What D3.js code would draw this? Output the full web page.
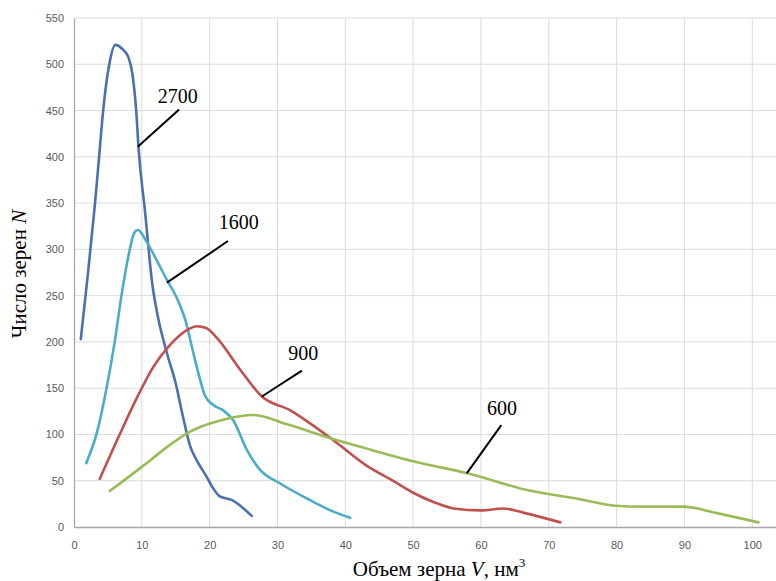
<!DOCTYPE html>
<html>
<head>
<meta charset="utf-8">
<script src="https://cdn.jsdelivr.net/npm/d3@7"></script>
<style>
  html, body { margin: 0; padding: 0; background: #fff; }
  svg { display: block; }
  .tick text { font-family: "Liberation Sans", Arial, sans-serif; font-size: 11px; fill: #595959; }
  .ttl { font-family: "Liberation Serif", "Times New Roman", serif; font-size: 21px; fill: #000; }
  .lbl { font-family: "Liberation Serif", "Times New Roman", serif; font-size: 20px; fill: #000; }
</style>
</head>
<body>
<div id="chart"></div>
<script>
// grain volume V (nm^3) vs grain count N, one series per temperature label
const series2700 = [[1.0,203],[2.0,270],[3.1,350],[3.7,400],[4.3,450],[5.2,500],[6.1,521],[7.2,516],[8.0,508],[8.6,490],[9.2,447],[9.5,411],[10.5,339],[11.5,265],[12.4,226],[13.7,188],[15.0,155],[16.1,118],[17.1,88],[18.1,72],[19.5,55],[20.5,42],[21.5,33],[23.3,29],[26.2,12]];
const series1600 = [[1.8,69],[3.3,100],[4.8,150],[6.0,200],[7.0,250],[8.0,292],[8.9,318],[9.4,321],[10.8,307],[12.2,288],[13.7,267],[15.2,247],[16.4,224],[17.6,188],[18.6,159],[19.3,142],[20.5,132],[22.0,126],[23.5,115],[25.5,83],[27.4,62],[30.4,47],[34.8,29],[37.8,18],[40.7,10]];
const series900  = [[3.8,52],[6.8,101],[9.3,140],[11.7,173],[14.2,197],[16.7,213],[18.1,217],[19.5,215],[21.0,205],[24.5,170],[27.7,141],[31.9,126],[34.8,112],[38.2,94],[43.2,66],[47.0,50],[50.0,37],[53.0,27],[56.0,20],[60.0,18],[63.3,20],[66.5,15],[71.7,5]];
const series600  = [[5.3,39],[10.0,65],[14.2,89],[16.6,101],[18.6,108],[22.0,116],[26.4,121],[31.4,111],[38.2,95],[44.0,83],[50.0,71],[58.0,58],[66.8,40],[74.6,30],[79.8,23],[84.0,22],[89.8,22],[94.8,15],[100.9,5]];

const seriesNames  = ["2700", "1600", "900", "600"];
const seriesData   = [series2700, series1600, series900, series600];
const seriesColors = ["#4a70b1", "#4bacc6", "#c0504d", "#9bbb59"];

// annotation: pointer point on curve, end of leader, label position (data units)
const notePoint = [[9.4,411],[13.7,264],[27.7,141],[57.9,58]];
const noteEnd   = [[15.5,451],[22.7,309],[33.6,169],[63.0,110]];
const noteText  = [[15.3,458],[24.3,322],[33.8,180],[63.1,121]];

const xTicks = d3.range(0, 101, 10);
const yTicks = d3.range(0, 551, 50);

const W = 776, H = 581;
const margin = {top: 18, right: 0, bottom: 54, left: 74};

const svg = d3.select('#chart').append('svg')
  .attr('width', W).attr('height', H);

const x = d3.scaleLinear().domain([0, 103.5]).range([margin.left, W - margin.right]);
const y = d3.scaleLinear().domain([0, 550]).range([H - margin.bottom, margin.top]);

// gridlines
svg.append('g')
  .selectAll('line.vg').data(xTicks.slice(1)).enter().append('line')
    .attr('x1', d => x(d)).attr('x2', d => x(d))
    .attr('y1', y(0)).attr('y2', y(550))
    .attr('stroke', '#dcdcdc').attr('stroke-width', 1);
svg.append('g')
  .selectAll('line.hg').data(yTicks.slice(1)).enter().append('line')
    .attr('x1', x(0)).attr('x2', W)
    .attr('y1', d => y(d)).attr('y2', d => y(d))
    .attr('stroke', '#dcdcdc').attr('stroke-width', 1);

// axes
const xAxis = svg.append('g')
  .attr('transform', `translate(0,${y(0)})`)
  .call(d3.axisBottom(x).tickValues(xTicks).tickSize(0).tickPadding(14));
xAxis.select('.domain').attr('stroke', '#a6a6a6').attr('stroke-width', 1.3);

const yAxis = svg.append('g')
  .attr('transform', `translate(${x(0)},0)`)
  .call(d3.axisLeft(y).tickValues(yTicks).tickSize(0).tickPadding(10));
yAxis.select('.domain').attr('stroke', '#a6a6a6').attr('stroke-width', 1.3);

// curves (smoothed like the spreadsheet's smooth lines)
const line = d3.line()
  .x(d => x(d[0])).y(d => y(d[1]))
  .curve(d3.curveMonotoneX);

svg.append('g').selectAll('path')
  .data(seriesData).enter().append('path')
    .attr('d', line)
    .attr('fill', 'none')
    .attr('stroke', (d, i) => seriesColors[i])
    .attr('stroke-width', 2.6)
    .attr('stroke-linecap', 'round');

// annotations
const notes = svg.append('g');
seriesNames.forEach((name, i) => {
  notes.append('line')
    .attr('x1', x(notePoint[i][0])).attr('y1', y(notePoint[i][1]))
    .attr('x2', x(noteEnd[i][0])).attr('y2', y(noteEnd[i][1]))
    .attr('stroke', '#000').attr('stroke-width', 2);
  notes.append('text').attr('class', 'lbl')
    .attr('x', x(noteText[i][0])).attr('y', y(noteText[i][1]))
    .attr('text-anchor', 'middle')
    .text(name);
});

// titles
svg.append('text').attr('class', 'ttl')
  .attr('transform', 'translate(26,274) rotate(-90)')
  .attr('text-anchor', 'middle')
  .html('Число зерен <tspan font-style="italic">N</tspan>');

svg.append('text').attr('class', 'ttl')
  .attr('x', 439).attr('y', 576)
  .attr('text-anchor', 'middle')
  .html('Объем зерна <tspan font-style="italic">V</tspan>, нм<tspan dy="-9" font-size="13">3</tspan>');
</script>
</body>
</html>
